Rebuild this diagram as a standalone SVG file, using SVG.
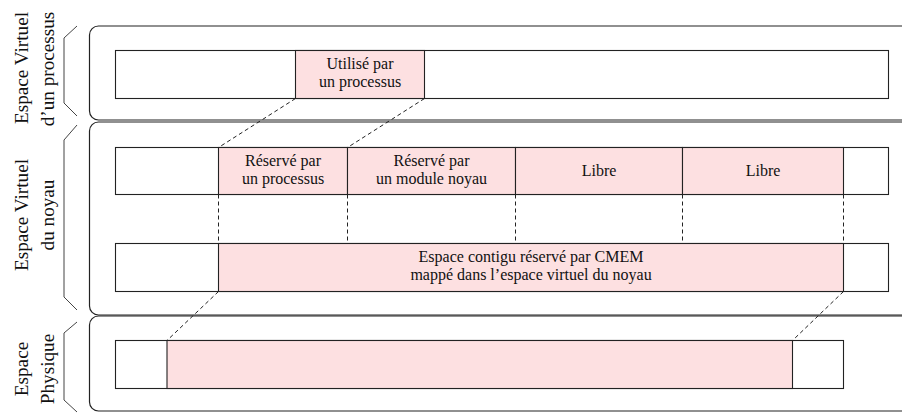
<svg xmlns="http://www.w3.org/2000/svg" width="902" height="413" viewBox="0 0 902 413">
<style>
.panel{fill:#fff;stroke:#222;stroke-width:1.2}
.brace{fill:none;stroke:#444;stroke-width:1}
.bar{fill:#fff;stroke:#222;stroke-width:1.1}
.pink{fill:#fde0e1;stroke:#222;stroke-width:1.1}
.dash{fill:none;stroke:#222;stroke-width:1;stroke-dasharray:4,3}
.t{font-family:"Liberation Serif","Times New Roman",serif;font-size:16px;fill:#111;text-anchor:middle}
.lab{font-family:"Liberation Serif","Times New Roman",serif;font-size:19.2px;fill:#111;text-anchor:middle}
</style>
<rect width="902" height="413" fill="#fff"/>
<g id="panel-process">
<rect class="panel" x="89.5" y="26" width="840" height="94" rx="9"/>
<path class="brace" d="M77,26 L64,38 L64,103 L77,116"/>
<g transform="translate(28,68) rotate(-90)"><text class="lab" x="0" y="0">Espace Virtuel</text></g>
<g transform="translate(54,69) rotate(-90)"><text class="lab" x="0" y="0">d’un processus</text></g>
</g>
<g id="panel-kernel">
<rect class="panel" x="89.5" y="122" width="840" height="193" rx="9"/>
<path class="brace" d="M77,125 L64,140 L64,297 L77,310"/>
<g transform="translate(28,215) rotate(-90)"><text class="lab" x="0" y="0">Espace Virtuel</text></g>
<g transform="translate(54,215) rotate(-90)"><text class="lab" x="0" y="0">du noyau</text></g>
</g>
<g id="panel-physical">
<rect class="panel" x="89.5" y="316" width="840" height="95" rx="9"/>
<path class="brace" d="M77,322 L64,333 L64,400 L77,412"/>
<g transform="translate(28,369) rotate(-90)"><text class="lab" x="0" y="0">Espace</text></g>
<g transform="translate(54,369) rotate(-90)"><text class="lab" x="0" y="0">Physique</text></g>
</g>
<g id="process-bar">
<rect class="bar" x="115.5" y="50.5" width="773" height="48"/>
<rect class="pink" x="295.5" y="50.5" width="129" height="48"/>
<text class="t" x="360" y="69">Utilisé par</text>
<text class="t" x="360" y="87">un processus</text>
</g>
<g id="kernel-bar">
<rect class="bar" x="115.5" y="147.5" width="773" height="47"/>
<rect class="pink" x="218.5" y="147.5" width="129" height="47"/>
<rect class="pink" x="347.5" y="147.5" width="168" height="47"/>
<rect class="pink" x="515.5" y="147.5" width="167" height="47"/>
<rect class="pink" x="682.5" y="147.5" width="161" height="47"/>
<text class="t" x="283" y="166">Réservé par</text>
<text class="t" x="283" y="184">un processus</text>
<text class="t" x="431.5" y="166">Réservé par</text>
<text class="t" x="431.5" y="184">un module noyau</text>
<text class="t" x="599" y="176">Libre</text>
<text class="t" x="763" y="176">Libre</text>
</g>
<g id="cmem-bar">
<rect class="bar" x="115.5" y="243.5" width="773" height="48"/>
<rect class="pink" x="218.5" y="243.5" width="625" height="48"/>
<text class="t" x="531" y="262">Espace contigu réservé par CMEM</text>
<text class="t" x="531" y="280">mappé dans l’espace virtuel du noyau</text>
</g>
<g id="physical-bar">
<rect class="bar" x="115.5" y="340.5" width="728" height="48"/>
<rect class="pink" x="167" y="340.5" width="625.5" height="48"/>
</g>
<g id="connectors">
<path class="dash" d="M295.5,98.5 L218.5,147.5"/>
<path class="dash" d="M424.5,98.5 L347.5,147.5"/>
<path class="dash" d="M218.5,194.5 V243.5"/>
<path class="dash" d="M347.5,194.5 V243.5"/>
<path class="dash" d="M515.5,194.5 V243.5"/>
<path class="dash" d="M682.5,194.5 V243.5"/>
<path class="dash" d="M843.5,194.5 V243.5"/>
<path class="dash" d="M218.5,291.5 L167,340.5"/>
<path class="dash" d="M843.5,291.5 L792.5,340.5"/>
</g>
</svg>
